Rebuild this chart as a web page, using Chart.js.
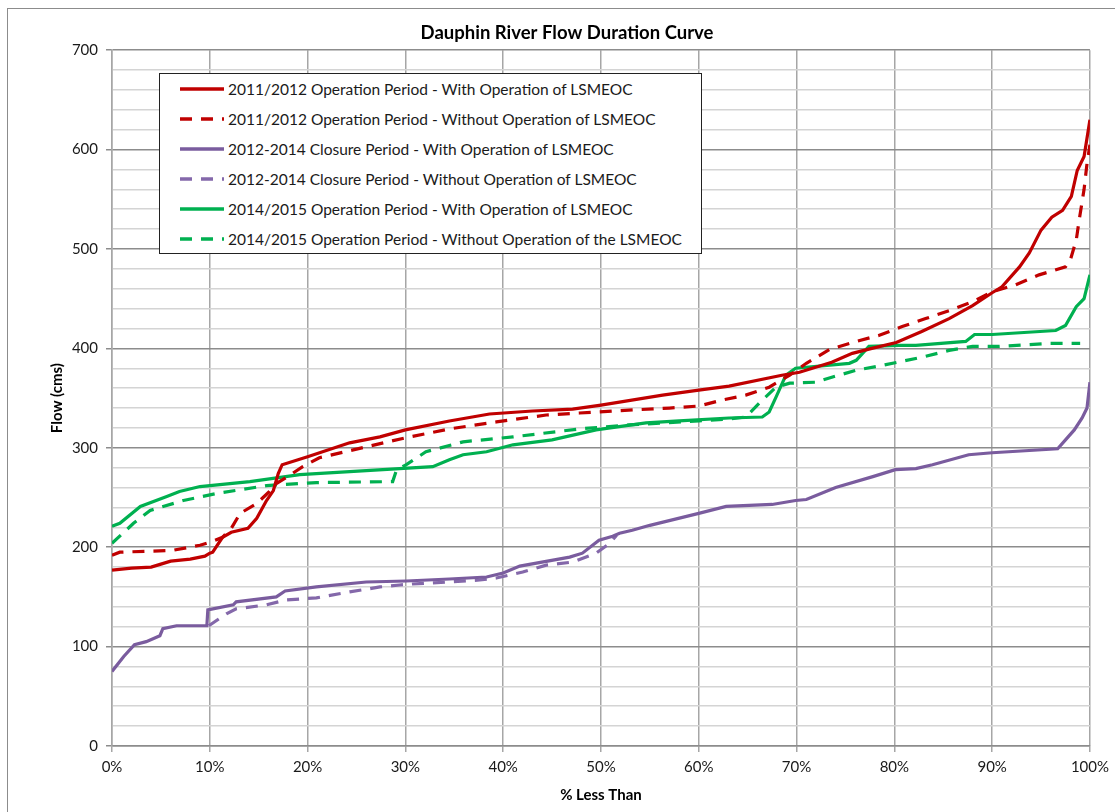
<!DOCTYPE html>
<html>
<head>
<meta charset="utf-8">
<script src="https://cdn.jsdelivr.net/npm/chart.js@4/dist/chart.umd.min.js"></script>
<style>
  html, body { margin: 0; padding: 0; background: #fff; overflow: hidden; }
  #wrap { position: relative; width: 1115px; height: 812px; }
  #frame { position: absolute; left: 7px; top: 8px; width: 1200px; height: 900px; border: 1px solid #8c8c8c; }
  #chart { position: absolute; left: 0; top: 0; }
  #legend {
    position: absolute; left: 159px; top: 73px; width: 543px; height: 181px;
    border: 1.5px solid #222; background: #fff; box-sizing: border-box;
    font-family: Lato, "Open Sans", sans-serif; font-size: 15.5px; color: #1a1a1a;
  }
  #legend .row { position: absolute; left: 0; height: 20px; display: flex; align-items: center; }
  #legend svg { margin-left: 20px; margin-right: 4px; }
</style>
</head>
<body>
<div id="wrap">
  <div id="frame"></div>
  <canvas id="chart" width="1115" height="812"></canvas>
  <div id="legend"></div>
</div>
<script>
// --- data (x = % less than, y = flow in cms) ---
const seriesLabels = [
  "2011/2012 Operation Period - With Operation of LSMEOC",
  "2011/2012 Operation Period - Without Operation of LSMEOC",
  "2012-2014 Closure Period - With Operation of LSMEOC",
  "2012-2014 Closure Period - Without Operation of LSMEOC",
  "2014/2015 Operation Period - With Operation of LSMEOC",
  "2014/2015 Operation Period - Without Operation of the LSMEOC",
];

const redWithPct = [0, 2, 4, 5, 6, 8, 9.5, 10, 10.3, 11.3, 12.2, 13.9, 14.8, 15.8, 16.5, 17, 17.4, 20, 24.3, 27.4, 30, 34.5, 38.6, 43, 47.1, 50, 56.3, 60, 63.1, 68.5, 70.3, 73.6, 75.7, 77.7, 80.2, 82.8, 85.6, 88, 90, 91, 92.8, 93.8, 95, 96.1, 97.2, 98.1, 98.7, 99.4, 100];
const redWithFlow = [177, 179, 180, 183, 186, 188, 191, 194, 195, 210, 215, 219, 229, 247, 257, 274, 283, 291, 305, 311, 318, 327, 334, 337, 339, 343, 353, 358, 362, 373, 376, 386, 395, 400, 406, 417, 430, 443, 456, 462, 482, 496, 519, 532, 539, 553, 579, 593, 630];

const redWithoutPct = [0, 0.8, 3.9, 6.3, 9, 10, 11.3, 12.2, 13.1, 14.8, 16.1, 16.8, 17.8, 19.5, 21.2, 26, 30, 34.5, 39.3, 44.4, 47.8, 51.2, 57, 60, 62.4, 64.8, 67.2, 69.3, 71, 73.4, 76.1, 78.4, 80.8, 83.2, 85.6, 88, 90, 92.4, 94.8, 97.5, 98, 98.6, 98.9, 99.4, 99.7, 100];
const redWithoutFlow = [192, 195, 196, 197, 202, 205, 210, 219, 234, 244, 256, 264, 270, 281, 290, 301, 310, 319, 326, 333, 335, 337, 340, 342, 348, 353, 361, 373, 385, 399, 407, 413, 422, 430, 438, 447, 457, 464, 474, 482, 489, 509, 529, 560, 586, 605];

const purpleWithPct = [0, 1.2, 2.3, 3.5, 4.9, 5.2, 6.6, 9.7, 9.8, 12.4, 12.7, 16.8, 17.7, 20.9, 26, 30.1, 34.5, 38.3, 40, 41.7, 46.8, 48.1, 49.8, 51.2, 51.9, 53.2, 55, 60, 62.8, 67.5, 69.9, 71, 74, 77.8, 80.1, 82.2, 83.9, 87.6, 90, 96.7, 97.5, 98.4, 99.2, 99.7, 100];
const purpleWithFlow = [75, 90, 102, 105, 111, 118, 121, 121, 137, 142, 145, 150, 156, 160, 165, 166, 168, 170, 174, 181, 190, 194, 207, 211, 214, 217, 222, 234, 241, 243, 247, 248, 260, 271, 278, 279, 283, 293, 295, 299, 308, 318, 330, 340, 366];

const purpleWithoutPct = [9.9, 10.5, 11.7, 12.7, 15.8, 17.8, 20.9, 24.3, 27.4, 29.4, 30.7, 34.5, 37.6, 39.3, 42, 44.4, 47.1, 49.5, 50.9, 51.6];
const purpleWithoutFlow = [121, 125, 133, 138, 142, 147, 149, 155, 160, 162, 163, 165, 167, 169, 175, 182, 185, 194, 204, 212];

const greenWithPct = [0, 0.8, 2.9, 5.6, 6.9, 9, 14.1, 19.2, 26, 32.8, 34.5, 35.9, 38.3, 41, 45, 49.5, 54.6, 58, 63.1, 66.5, 67.2, 67.9, 68.9, 69.9, 75.4, 76.1, 77.4, 80.5, 82.2, 87.3, 88.2, 90, 96.5, 97.5, 98.6, 99.4, 100];
const greenWithFlow = [221, 224, 241, 251, 256, 261, 266, 273, 277, 281, 288, 293, 296, 303, 308, 318, 325, 327, 330, 331, 336, 351, 373, 380, 385, 388, 402, 403, 403, 407, 414, 414, 418, 423, 442, 450, 474];

const greenWithoutPct = [0, 1.1, 2.2, 3.9, 7.3, 10.7, 15.8, 20.9, 28.7, 29.1, 30.1, 32.1, 35.9, 41, 47.8, 52.9, 60, 63.1, 64.8, 66.2, 67.9, 69.3, 72, 73.6, 76.1, 78.8, 80.8, 83.2, 85.6, 88, 90.7, 95.8, 99];
const greenWithoutFlow = [204, 214, 224, 237, 247, 254, 262, 265, 266, 278, 283, 296, 306, 311, 319, 323, 327, 329, 331, 345, 361, 365, 366, 371, 378, 383, 387, 392, 398, 402, 402, 405, 405];

const xTickLabels = ["0%", "10%", "20%", "30%", "40%", "50%", "60%", "70%", "80%", "90%", "100%"];
const yTickLabels = ["0", "100", "200", "300", "400", "500", "600", "700"];

// --- styling ---
const RED = "#C00000";
const PURPLE = "#7A5C9E";
const PURPLE_LIGHT = "#8468AA";
const GREEN = "#00B050";
const DASH = [12, 9];
const FONT = "Lato, 'Open Sans', sans-serif";

const toPoints = (xs, ys) => xs.map((x, i) => ({ x, y: ys[i] }));

const lineSet = (label, xs, ys, color, dashed) => ({
  label,
  data: toPoints(xs, ys),
  borderColor: color,
  backgroundColor: color,
  borderWidth: 3.2,
  borderDash: dashed ? DASH : [],
  pointRadius: 0,
  tension: 0,
  fill: false,
});

const datasets = [
  lineSet(seriesLabels[0], redWithPct, redWithFlow, RED, false),
  lineSet(seriesLabels[1], redWithoutPct, redWithoutFlow, RED, true),
  lineSet(seriesLabels[2], purpleWithPct, purpleWithFlow, PURPLE, false),
  lineSet(seriesLabels[3], purpleWithoutPct, purpleWithoutFlow, PURPLE_LIGHT, true),
  lineSet(seriesLabels[4], greenWithPct, greenWithFlow, GREEN, false),
  lineSet(seriesLabels[5], greenWithoutPct, greenWithoutFlow, GREEN, true),
];

const ctx = document.getElementById("chart").getContext("2d");
new Chart(ctx, {
  type: "line",
  data: { datasets },
  options: {
    responsive: false,
    animation: false,
    // left padding shifts the title centre to where the reference has it
    layout: { padding: { left: 43, right: 24, top: 0, bottom: 0 } },
    plugins: {
      legend: { display: false },
      tooltip: { enabled: false },
      title: {
        display: true,
        text: "Dauphin River Flow Duration Curve",
        color: "#000",
        font: { family: FONT, size: 18.5, weight: "bold", lineHeight: 1.2 },
        padding: { top: 22, bottom: 6 },
      },
    },
    scales: {
      x: {
        type: "linear",
        min: 0,
        max: 100,
        afterFit: (s) => { s.height = 66; },
        afterBuildTicks: (s) => { s.ticks = xTickLabels.map((_, i) => ({ value: i * 10 })); },
        ticks: {
          callback: (v) => xTickLabels[Math.round(v / 10)],
          color: "#1a1a1a",
          font: { family: FONT, size: 15 },
          padding: 6,
          maxRotation: 0,
        },
        grid: { color: "#a6a6a6", lineWidth: 1.5, tickLength: 6, tickColor: "#a6a6a6" },
        border: { color: "#8c8c8c", width: 1.5 },
        title: {
          display: true,
          text: "% Less Than",
          color: "#000",
          font: { family: FONT, size: 15, weight: "bold", lineHeight: 1.2 },
          padding: { top: 0, bottom: 8 },
        },
      },
      y: {
        min: 0,
        max: 700,
        afterFit: (s) => { s.width = 69; },
        ticks: {
          stepSize: 20,
          autoSkip: false,
          callback: (v) => (v % 100 === 0 ? yTickLabels[v / 100] : ""),
          color: "#1a1a1a",
          font: { family: FONT, size: 15 },
          padding: 8,
        },
        grid: {
          color: (c) => (c.tick && c.tick.value % 100 === 0 ? "#8c8c8c" : "#d4d4d4"),
          lineWidth: 1.5,
          tickLength: 6,
          tickColor: (c) => (c.tick && c.tick.value % 100 === 0 ? "#8c8c8c" : "rgba(0,0,0,0)"),
        },
        border: { color: "#a6a6a6", width: 1.5 },
        title: {
          display: true,
          text: "Flow (cms)",
          color: "#000",
          font: { family: FONT, size: 15, weight: "bold", lineHeight: 1.2 },
          padding: { top: 5, bottom: 0 },
        },
      },
    },
  },
});

// --- boxed legend over the plot, as in the reference ---
const legend = document.getElementById("legend");
datasets.forEach((ds, i) => {
  const row = document.createElement("div");
  row.className = "row";
  row.style.top = (5 + i * 30) + "px";
  const svgNS = "http://www.w3.org/2000/svg";
  const svg = document.createElementNS(svgNS, "svg");
  svg.setAttribute("width", "44");
  svg.setAttribute("height", "6");
  const ln = document.createElementNS(svgNS, "line");
  ln.setAttribute("x1", "0"); ln.setAttribute("y1", "3");
  ln.setAttribute("x2", "44"); ln.setAttribute("y2", "3");
  ln.setAttribute("stroke", ds.borderColor);
  ln.setAttribute("stroke-width", "3.5");
  if (ds.borderDash.length) ln.setAttribute("stroke-dasharray", "12 9");
  svg.appendChild(ln);
  const txt = document.createElement("span");
  txt.textContent = ds.label;
  row.appendChild(svg);
  row.appendChild(txt);
  legend.appendChild(row);
});
</script>
</body>
</html>
